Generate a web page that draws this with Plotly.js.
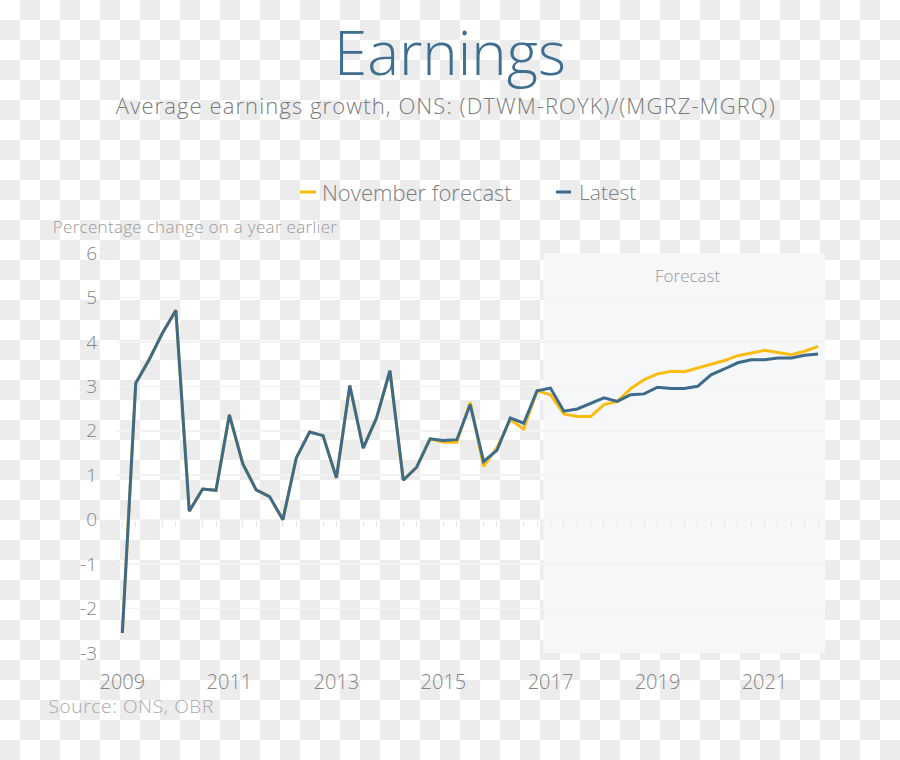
<!DOCTYPE html>
<html>
<head>
<meta charset="utf-8">
<script src="https://cdn.plot.ly/plotly-3.0.1.min.js"></script>
<style>
  html, body { margin: 0; padding: 0; }
  body {
    width: 900px; height: 760px; overflow: hidden;
    background: repeating-conic-gradient(#ececec 0 25%, #ffffff 0 50%) 0 0 / 40px 40px;
  }
  #chart { width: 900px; height: 760px; }
  .annotation[data-index="0"] text { letter-spacing: 1.1px; }
  .annotation[data-index="3"] text { letter-spacing: 0.3px; }
  .annotation[data-index="5"] text { letter-spacing: 0.7px; }
</style>
</head>
<body>
<div id="chart"></div>
<script>
// Quarterly observations, 2009 Q1 to 2022 Q1
const startYear = 2009;
const latest = [
  -2.55, 3.07, 3.60, 4.20, 4.71, 0.19, 0.69, 0.66, 2.36, 1.26,
  0.67, 0.52, 0.00, 1.39, 1.97, 1.89, 0.94, 3.02, 1.61, 2.29,
  3.35, 0.89, 1.18, 1.82, 1.78, 1.80, 2.59, 1.31, 1.56, 2.29,
  2.17, 2.90, 2.96, 2.44, 2.49, 2.61, 2.74, 2.66, 2.81, 2.83,
  2.98, 2.95, 2.95, 3.00, 3.26, 3.39, 3.53, 3.60, 3.60, 3.64,
  3.64, 3.70, 3.73
];
const novemberForecast = [
  -2.55, 3.07, 3.60, 4.20, 4.71, 0.19, 0.69, 0.66, 2.36, 1.26,
  0.67, 0.52, 0.00, 1.39, 1.97, 1.89, 0.94, 3.02, 1.61, 2.29,
  3.35, 0.89, 1.18, 1.82, 1.74, 1.74, 2.64, 1.20, 1.62, 2.25,
  2.04, 2.90, 2.81, 2.38, 2.32, 2.32, 2.59, 2.66, 2.95, 3.15,
  3.28, 3.34, 3.33, 3.41, 3.49, 3.58, 3.69, 3.75, 3.81, 3.76,
  3.71, 3.79, 3.90
];
const seriesNames = ["November forecast", "Latest"];
const seriesColors = ["#f9bd12", "#3d6b8c"];
const xTickVals = [2009, 2011, 2013, 2015, 2017, 2019, 2021];
const xTickText = ["2009", "2011", "2013", "2015", "2017", "2019", "2021"];
const yTickVals = [6, 5, 4, 3, 2, 1, 0, -1, -2, -3];
const yTickText = ["6", "5", "4", "3", "2", "1", "0", "-1", "-2", "-3"];
const forecastStart = 2016.87;
const forecastEnd = 2022.13;
const forecastLabelX = 2019.56;

const xs = latest.map((_, i) => startYear + i / 4);

const FONT = "'Open Sans', Lato, sans-serif";
const W = 300;

// plot-area geometry helpers (paper coords from pixel positions of the page)
const L = 117, T = 253, PW = 708, PH = 400;
const px = v => (v - L) / PW;
const py = v => (T + PH - v) / PH;

const traces = [
  {
    x: xs, y: novemberForecast, type: "scatter", mode: "lines",
    name: seriesNames[0], showlegend: false,
    line: { color: seriesColors[0], width: 3 }
  },
  {
    x: xs, y: latest, type: "scatter", mode: "lines",
    name: seriesNames[1], showlegend: false,
    line: { color: seriesColors[1], width: 3 }
  },
  {
    // quarterly tick marks along the zero line
    x: xs, y: xs.map(() => 0), type: "scatter", mode: "lines",
    xaxis: "x2", yaxis: "y", showlegend: false, hoverinfo: "skip",
    line: { color: "rgba(0,0,0,0)", width: 0 }
  }
];

const layout = {
  width: 900, height: 760,
  paper_bgcolor: "rgba(0,0,0,0)",
  plot_bgcolor: "rgba(0,0,0,0)",
  margin: { l: L, r: 900 - L - PW, t: T, b: 760 - T - PH },
  font: { family: FONT, color: "#888888", weight: W },
  title: {
    text: "Earnings",
    x: 0.5, xanchor: "center",
    y: 0.929, yanchor: "middle", yref: "container",
    font: { family: FONT, size: 60, color: "#3f6f90", weight: W }
  },
  showlegend: false,
  xaxis: {
    range: [2008.9, forecastEnd],
    tickvals: xTickVals, ticktext: xTickText,
    showgrid: false, zeroline: false, showline: false,
    ticks: "", ticklabelstandoff: 15,
    tickfont: { family: FONT, size: 20, color: "#858585", weight: W },
    fixedrange: true
  },
  xaxis2: {
    matches: "x", overlaying: "x", anchor: "free", position: 1 / 3,
    side: "bottom",
    tickmode: "linear", tick0: 2009, dtick: 0.25,
    ticks: "outside", ticklen: 6, tickwidth: 1, tickcolor: "#e6e6e6",
    showticklabels: false, showgrid: false, zeroline: false, showline: false
  },
  yaxis: {
    range: [-3, 6],
    tickvals: yTickVals, ticktext: yTickText,
    showgrid: true, gridcolor: "#f3f3f3", gridwidth: 1.5,
    zeroline: false, showline: false,
    ticks: "", ticklabelstandoff: 19,
    tickfont: { family: FONT, size: 19, color: "#858585", weight: W },
    fixedrange: true
  },
  shapes: [
    {
      type: "rect", layer: "below",
      xref: "x", yref: "paper",
      x0: forecastStart, x1: forecastEnd, y0: 0, y1: 1,
      fillcolor: "#f6f7f9", line: { width: 0 }
    },
    {
      type: "line", xref: "paper", yref: "paper",
      x0: px(300), x1: px(316), y0: py(192), y1: py(192),
      line: { color: seriesColors[0], width: 3 }
    },
    {
      type: "line", xref: "paper", yref: "paper",
      x0: px(556), x1: px(571), y0: py(192), y1: py(192),
      line: { color: seriesColors[1], width: 3 }
    }
  ],
  annotations: [
    {
      text: "Average earnings growth, ONS: (DTWM-ROYK)/(MGRZ-MGRQ)",
      xref: "paper", yref: "paper", x: px(446), y: py(105),
      xanchor: "center", yanchor: "middle", showarrow: false,
      font: { family: FONT, size: 22, color: "#7a7a7a", weight: W }
    },
    {
      text: seriesNames[0],
      xref: "paper", yref: "paper", x: px(320), y: py(192),
      xanchor: "left", yanchor: "middle", showarrow: false,
      font: { family: FONT, size: 22, color: "#7d7d7d", weight: W }
    },
    {
      text: seriesNames[1],
      xref: "paper", yref: "paper", x: px(577), y: py(192),
      xanchor: "left", yanchor: "middle", showarrow: false,
      font: { family: FONT, size: 21, color: "#7d7d7d", weight: W }
    },
    {
      text: "Percentage change on a year earlier",
      xref: "paper", yref: "paper", x: px(195), y: py(226),
      xanchor: "center", yanchor: "middle", showarrow: false,
      font: { family: FONT, size: 17, color: "#9a9a9a", weight: W }
    },
    {
      text: "Forecast",
      xref: "x", yref: "y", x: forecastLabelX, y: 5.5,
      xanchor: "center", yanchor: "middle", showarrow: false,
      font: { family: FONT, size: 17, color: "#999999", weight: W }
    },
    {
      text: "Source: ONS, OBR",
      xref: "paper", yref: "paper", x: px(131), y: py(706),
      xanchor: "center", yanchor: "middle", showarrow: false,
      font: { family: FONT, size: 19, color: "#a8a8a8", weight: W }
    }
  ]
};

Plotly.newPlot("chart", traces, layout, { displayModeBar: false, staticPlot: true });
</script>
</body>
</html>
